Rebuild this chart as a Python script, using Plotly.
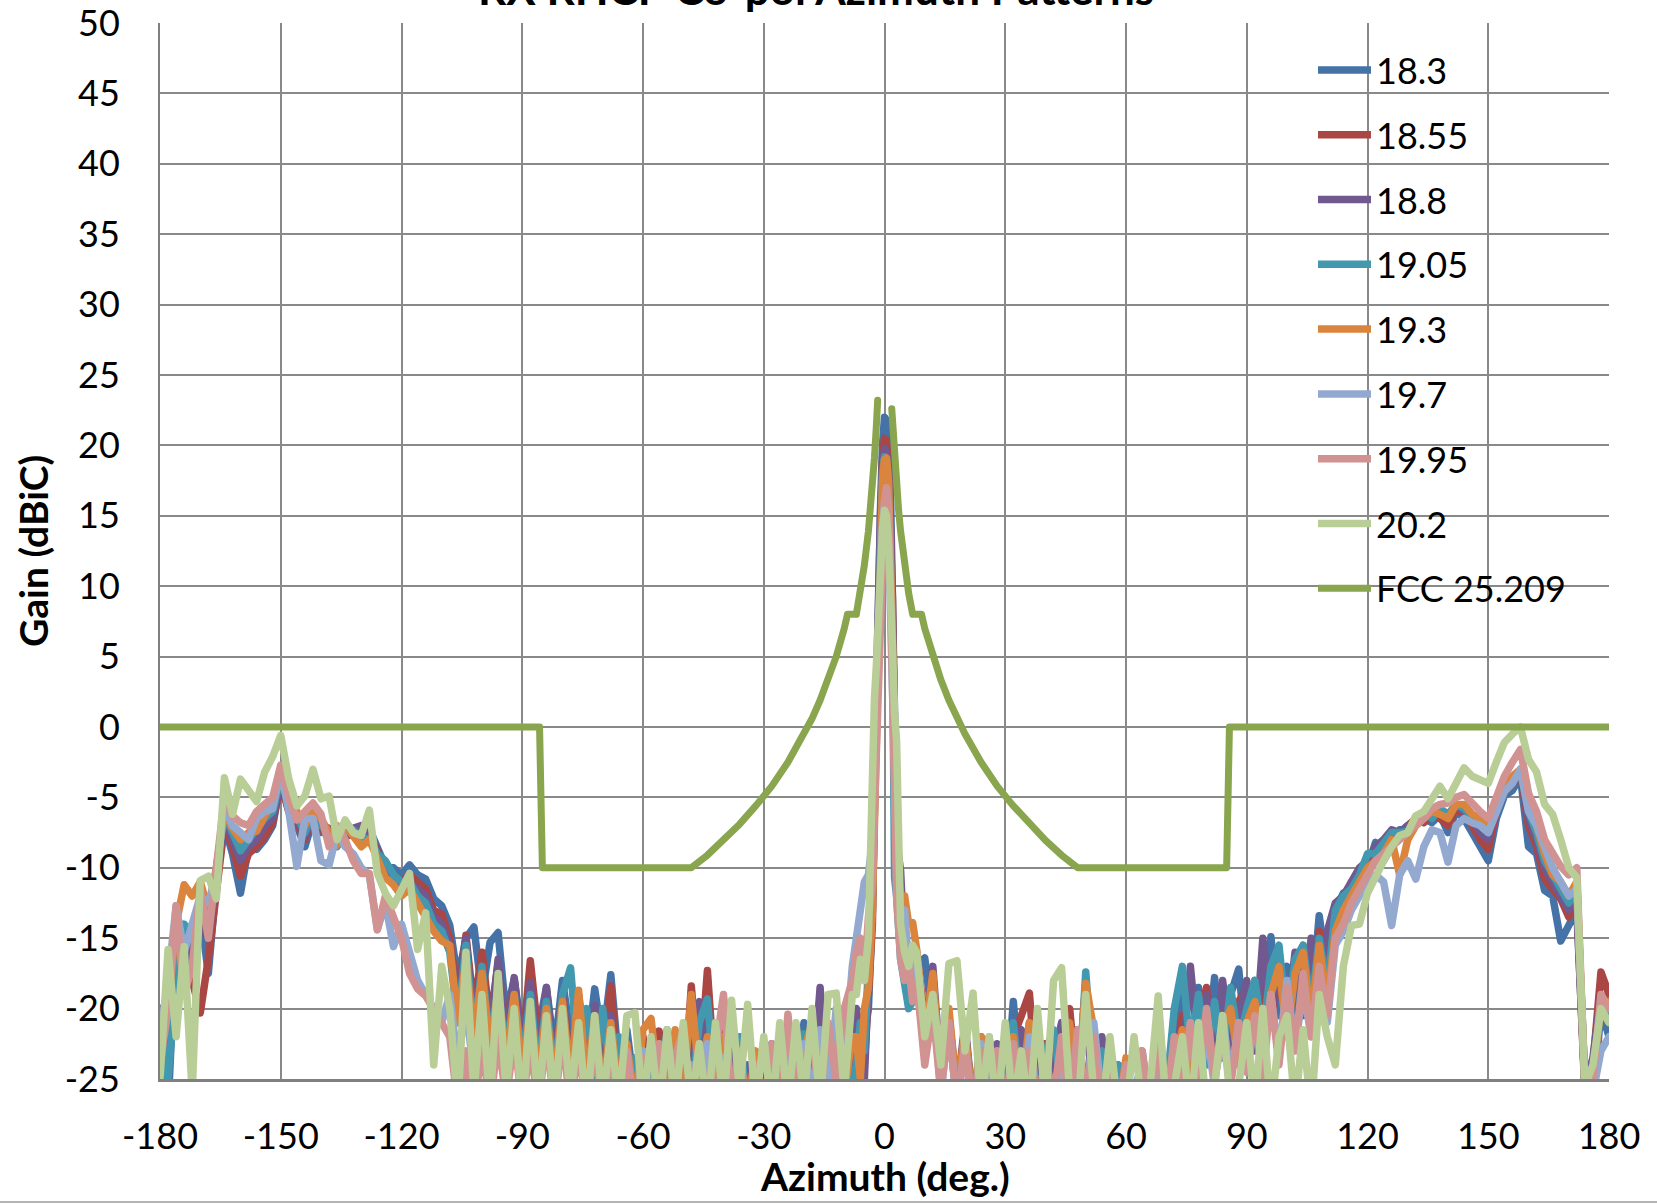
import plotly.graph_objects as go

# ---------------- data ----------------
ANG_LEFT = list(range(-180, -7, 2))          # -180 .. -8 (87 pts)
ANG_CENTER = [-7, -6, -5, -4, -3, -2.5, -2, -1.5, -1, -0.5, 0, 0.5, 1, 1.5, 2, 2.5, 3, 4, 5, 6, 7]
ANG_RIGHT = list(range(8, 181, 2))           # 8 .. 180 (87 pts)
AZIMUTH = ANG_LEFT + ANG_CENTER + ANG_RIGHT

X_TICKS = [-180, -150, -120, -90, -60, -30, 0, 30, 60, 90, 120, 150, 180]
X_TICK_TEXT = ["-180", "-150", "-120", "-90", "-60", "-30", "0", "30", "60", "90", "120", "150", "180"]
Y_TICKS = [-25, -20, -15, -10, -5, 0, 5, 10, 15, 20, 25, 30, 35, 40, 45, 50]
Y_TICK_TEXT = ["-25", "-20", "-15", "-10", "-5", "0", "5", "10", "15", "20", "25", "30", "35", "40", "45", "50"]

SERIES_NAMES = ["18.3", "18.55", "18.8", "19.05", "19.3", "19.7", "19.95", "20.2"]
SERIES_COLORS = ["#4572A7", "#AA4643", "#71588F", "#4198AF", "#DB843D", "#93A9CF", "#D19392", "#B9CD96"]

# gain (dBiC) per block: back lobe -180..-110 | side -108..-8 | main -7..7 | 8..58 | 60..110 | 112..180
G_18_3 = [
    -20, -27, -15, -19, -14, -13, -17.5, -11, -7, -9, -11.8, -8.5, -8.7, -8, -7, -3.8, -6, -7, -8.5, -6.6,
    -7.5, -7.4, -8, -7.5, -7.6, -7.5, -7.2, -8.5, -9.9, -10, -10.5, -9.8, -10.5, -10.8, -12.2, -12.7,
    -14.1, -18, -15, -14.2, -19, -15.3, -14.6, -20.5, -17.9, -22, -18, -21.5, -18.5, -23, -18, -22, -19,
    -23.5, -18.6, -22.5, -17.6, -24, -21.5, -26, -23, -27, -22.5, -26, -23, -27, -22.5, -26.5, -21.5, -26,
    -23, -27, -23.5, -27, -24, -28, -22.5, -27, -23.5, -26, -21, -26, -22, -27, -21.5, -25, -23,
    -21, -24, -22, -20, -13, -5, 4, 11, 15.5, 20, 22, 21.8, 20, 16.5, 11, 1, -9, -15, -17, -16, -18,
    -17, -16.4, -21, -24, -20.5, -26, -21.5, -27, -22, -26.5, -24, -27.5, -19.5, -26, -21, -27, -22.5,
    -26.5, -21.5, -27, -21.5, -26, -22, -27, -23.5, -27,
    -24, -27, -23, -27.5, -22, -26.5, -21, -19, -24, -18.5, -23.5, -17.8, -23, -19, -17.2, -23, -18, -21.5,
    -14.9, -20.5, -17, -21.5, -16.5, -20, -13.4, -17.5,
    -13, -11.8, -11.5, -10.8, -10, -8.2, -9.5, -8.5, -7.3, -7.4, -7, -6.5, -6.8, -6.2, -7.5, -6, -6.5,
    -7.5, -8.5, -9.5, -6.5, -4.9, -4.5, -3.5, -8.5, -9, -11.6, -12, -15.2, -14, -13, -25.5, -27, -20, -22,
]
G_18_55 = [
    -22, -24, -17, -16, -18, -20.3, -16.5, -11.5, -7, -8.5, -10.6, -9, -8.5, -7.8, -6.8, -4, -6, -6.8, -8,
    -6.4, -7.3, -7.3, -8.2, -7.8, -7.6, -7.2, -7.5, -8.8, -10, -10.5, -11, -10.5, -11, -11.5, -13, -13.3,
    -15, -19.5, -14.8, -20, -16, -21, -16.8, -21.5, -18, -23, -16.6, -22, -19.5, -23.5, -19.2, -24, -19.5,
    -23, -20, -24.5, -18.4, -25, -22.5, -26.5, -22, -27, -21.6, -26, -22.3, -27, -18.4, -25, -17.3, -25.5,
    -19.4, -26, -23, -27.5, -23.5, -27, -23.8, -26.5, -23, -27, -22.5, -26, -22, -26.5, -23, -27, -21,
    -23, -21, -24, -19, -14, -4, 3, 10, 15, 19, 20.5, 20.3, 18.5, 15, 9, -1, -10, -14, -16.5, -18, -17,
    -16, -21, -18.5, -24, -21, -26, -22, -27, -23, -27, -23.5, -26.5, -22, -20.5, -18.9, -26, -22.5, -27,
    -22, -20, -26, -18.2, -26, -23, -27, -24,
    -25.5, -27, -25, -27.5, -24.5, -26, -23.5, -20.5, -25, -21, -18.5, -24, -19, -23.5, -19.5, -18.5, -23,
    -17, -21, -17.5, -21, -17.5, -15.5, -20, -14.5, -18,
    -13.5, -12.5, -11, -11.5, -9.5, -9, -8.5, -8, -7.5, -7, -6.5, -6.8, -6.2, -6.5, -7, -5.8, -6.2, -7, -8,
    -8.7, -6, -4.6, -4, -3.2, -7, -8.5, -10.8, -11.5, -12.2, -13.5, -12.5, -26, -24, -17.4, -19,
]
G_18_8 = [
    -20, -23, -16, -15, -17, -14, -15, -11, -6.5, -8, -9.5, -8.5, -8, -7, -6.5, -3.8, -5.8, -6.5, -7.8,
    -6.2, -7, -7.2, -8, -7.6, -7.2, -7, -7.6, -9, -10.2, -10.8, -11.5, -11, -11.5, -12, -13.5, -14,
    -15.5, -20, -15, -21, -17, -22, -16.5, -22.5, -17.8, -23, -18.2, -23.5, -18.5, -24, -19.5, -24.5, -19.5,
    -25, -19.8, -25, -20.5, -25.5, -22.5, -26, -23, -27, -22.5, -27, -23.5, -26.5, -21.5, -19.5, -26, -21,
    -26.5, -23, -27, -24, -27, -24.5, -22.6, -27, -24, -27, -23, -26, -18.5, -26, -22.5, -27, -24,
    -20, -22, -25, -18, -12, -3, 4, 10.5, 15, 18.5, 19.8, 19.5, 18, 14, 9, 0, -8, -10.2, -16, -17.5, -19,
    -17.5, -22, -17, -24.5, -20.5, -26, -21, -27, -23, -26.5, -22.5, -27, -23, -21.5, -26, -22, -27, -23.5,
    -21, -26, -22.5, -20.5, -26.5, -22, -27, -24,
    -24.5, -27.5, -25.5, -27, -23, -26.5, -21.5, -24, -17, -23, -19, -24, -18, -22.5, -20.5, -18, -23, -15,
    -20.5, -17, -21, -16, -20.5, -15, -19.5, -14.5,
    -12.5, -12, -11, -10, -9.5, -8.5, -8, -7.3, -7.5, -7, -6.8, -6.2, -6.5, -6, -6.5, -5.5, -6, -6.5, -7.5,
    -8, -5.5, -4.5, -3.8, -3, -6.5, -8, -10, -11, -12, -13, -12, -25.5, -23.5, -19, -21,
]
G_19_05 = [
    -21, -25, -18, -14, -15, -12.5, -14, -10.5, -6.2, -7.5, -8.8, -8, -7.2, -6.5, -6, -3.6, -5.5, -6.3,
    -7.5, -6, -7, -7.5, -8.5, -7.5, -7.3, -7.8, -8, -9, -9.5, -10.5, -11, -11, -12, -12.5, -14, -14.5,
    -16, -21, -15.5, -22, -17, -22.5, -18.5, -23, -19, -24, -19, -24.5, -19.5, -25, -19, -17.1, -24, -20,
    -25, -20, -25, -22, -26, -23.5, -27, -23.5, -26.5, -21.5, -26, -23.5, -26.5, -21, -19.3, -26, -23.5,
    -27, -22, -27, -24, -27.5, -24, -22.2, -27, -24, -21.8, -26, -23, -27, -24, -22, -26,
    -24, -21, -23, -17, -11.8, -4, 3, 9, 14.5, 18, 19.2, 19, 17, 12.5, 6, -10.7, -12, -16.5, -18, -20, -19.5,
    -18, -23, -18.5, -25, -21.5, -26.5, -22, -27, -23.5, -22, -27, -24, -21, -26.5, -22.5, -27, -23, -21.5,
    -26, -23, -27, -17.4, -25, -23, -27, -24,
    -25, -27.5, -23.5, -27, -22.5, -26, -20, -17, -23, -19, -24, -19.5, -23.5, -18.5, -22.5, -20, -18, -22,
    -17, -15.5, -21, -16.5, -15.5, -20, -15, -18.5,
    -13, -12, -11.5, -10.5, -9, -9, -8.3, -7.5, -7.5, -7.4, -6.5, -6, -6.5, -5.8, -6.2, -5.5, -5.8, -6.5,
    -7, -7.5, -5.5, -4.3, -3.8, -3.2, -6, -7.5, -9.5, -10.5, -11.5, -12.5, -11.5, -25, -26, -19.5, -20.5,
]
G_19_3 = [
    -23, -20, -14, -11.2, -12, -11, -13, -10, -6, -7.2, -8, -7.5, -7.4, -6.3, -5.5, -3.5, -5, -6, -7, -5.8,
    -6.5, -7.5, -8.4, -7, -7.8, -8.5, -8, -9.5, -10.7, -11.2, -12, -11.5, -12.5, -13.5, -14.5, -15.2,
    -15.5, -21, -16.5, -22, -17.5, -23, -18.5, -24, -19, -24.5, -20, -25, -20, -25.5, -19.5, -25, -18.7,
    -25.5, -20.5, -26, -21, -26, -22.5, -27, -21.5, -20.7, -26, -25, -21.5, -26, -19, -25, -22, -26.5,
    -22, -27, -23.5, -27, -23, -27.5, -23, -26.5, -22.5, -27, -23, -21, -26, -24, -21.5, -26, -22,
    -22, -25, -20, -18.5, -13, -5.8, 2, 9, 14, 17.5, 19, 19.1, 17.5, 13, 6, -2, -9.5, -12, -12, -14, -13.9,
    -15.8, -22, -17.5, -25, -20, -26, -21.5, -27, -22, -26.5, -24, -27.5, -22, -26, -21, -27, -23.5, -26.5,
    -22.5, -21, -26, -18.2, -21.5, -26.5, -23, -27.5,
    -23.5, -27.5, -24, -27, -25, -26, -24, -21.5, -25, -22, -20.5, -24.5, -21.5, -20, -24, -21, -19.5, -23,
    -19, -17, -22, -17.5, -16, -21, -15.5, -19.5,
    -14.5, -13, -12, -11, -10, -9.5, -9, -8, -10.5, -8, -7, -6.5, -6, -6.2, -6.5, -5.5, -5.5, -6.2, -6.5,
    -7, -5.2, -4, -3.5, -3, -5.8, -7, -9, -10.5, -11, -12, -11, -25.5, -24.5, -20, -19.5,
]
G_19_7 = [
    -22, -18, -12.7, -16, -14, -12, -12.5, -10.5, -5.5, -7, -7.5, -8, -6.5, -6, -5.8, -3, -6, -9.9, -6.5,
    -6.5, -9.5, -9.8, -7.5, -8.5, -9, -10, -10.5, -14.4, -12.5, -15.6, -14, -15.8, -18, -19, -20, -21,
    -19, -24, -19.5, -25, -20.5, -25.5, -21, -26, -21.5, -26, -22, -26.5, -21, -26, -22, -27, -22.5, -26.5,
    -22.5, -27, -23, -27, -23.5, -27.5, -23, -27, -24, -27.5, -23.5, -27, -24, -28, -22.5, -27, -23.5, -28,
    -24, -27, -24, -27.5, -23.5, -27, -23, -27, -22.5, -26.5, -21.5, -26, -20, -24, -17,
    -14.7, -13, -11, -10.5, -8, -2, 3, 8, 12, 14.5, 15.9, 15.5, 13.5, 9, 3, -3, -10, -15, -13, -17, -16,
    -17.5, -23, -19, -26, -21, -27, -22.5, -27.5, -22.5, -27, -24, -28, -23, -27, -22, -27.5, -24, -27, -23,
    -27.5, -22, -27, -21, -26.5, -24, -27.5,
    -25, -28, -25.5, -27.5, -24.5, -27, -24, -26.5, -21, -26, -21.5, -25.5, -20.5, -25, -21, -24.5, -21,
    -24, -19, -23.5, -18, -23, -18.5, -22, -18, -21,
    -15.5, -14.5, -13, -12, -11.5, -10.5, -11, -14.1, -10.5, -9.5, -10.8, -8.5, -7.3, -7.5, -9.6, -7, -6.5,
    -6.8, -7, -7.5, -6, -4.6, -4, -3, -6, -7, -8.5, -10, -11, -12, -11.5, -25.5, -26, -23, -22,
]
G_19_95 = [
    -24, -20, -12.7, -19, -17, -11.5, -15, -10, -5, -6.3, -6.8, -7, -6, -5.5, -5, -2.7, -5, -6.6, -6, -5.4,
    -6.2, -8.5, -7, -8, -9.5, -10.4, -10.4, -14.4, -12, -13.4, -15, -17.5, -18.6, -19.1, -20, -21,
    -22, -27, -23, -27.5, -22.5, -27, -22, -26.5, -22, -27, -22.5, -27, -22, -27, -22, -26.5, -23, -27,
    -22.5, -27.5, -22.5, -27, -23, -27.5, -23.5, -27, -22.5, -27.5, -23.5, -21.5, -26.5, -22.5, -27, -23,
    -19, -26.5, -23, -27.5, -24, -27.5, -22.5, -27, -20.4, -26, -24, -22, -26.5, -21, -25, -20, -18,
    -16, -15, -18, -13.5, -11, -6, -1, 4, 9, 13, 16, 17, 15.5, 10, 3, -4, -12, -16.5, -18, -17, -19.5,
    -18, -24, -20, -26, -21, -27, -22.5, -27.5, -23, -27.5, -23, -27, -22.5, -27, -23, -27.5, -23.5, -26.5,
    -22, -27, -21.5, -26.5, -22, -27.5, -23, -27,
    -24, -27.5, -23, -27, -22.5, -27, -22, -26.5, -21, -26, -20, -25, -22, -25.5, -21, -24.5, -20.5, -25,
    -19, -24, -18.5, -23, -17.5, -22, -17, -20.5,
    -15, -14, -12.5, -11.5, -10.5, -9.5, -9, -8.5, -8, -7.5, -7, -6.5, -5.8, -5.5, -5.4, -5, -4.8, -5.5,
    -6, -6.5, -5, -3.5, -2.5, -1.6, -4.7, -6, -8, -9, -9.9, -10.5, -10, -25.5, -25, -19, -20,
]
G_20_2 = [
    -25, -15.8, -22, -15.6, -26, -10.9, -10.6, -12.2, -3.6, -6.2, -3.7, -4.6, -5.3, -3.2, -2.1, -0.6, -3.7,
    -5.6, -4.9, -3.0, -5.1, -4.9, -8, -6.6, -7.5, -7.7, -5.9, -10.4, -11.8, -12.7, -11.5, -10.4, -15.8,
    -13.2, -24, -17,
    -20, -27, -16, -26, -19, -27, -17.5, -26, -20, -27.5, -19.5, -27, -20.5, -27, -20, -26.5, -21, -27.5,
    -20.5, -27, -21.5, -27, -20.5, -20.3, -27, -22, -27.5, -21.5, -27, -21, -27, -22.5, -27.5, -21, -27,
    -19.4, -26, -19.7, -27, -22, -27.5, -21, -27, -21, -26.5, -20, -27, -19, -18.9, -26, -19,
    -19, -16.5, -18, -15, -1, 2, 4.5, 8.5, 11.5, 14, 15.4, 15, 13, 10, 5.5, 1, -1, -14, -16, -17, -15.5,
    -16, -22, -19, -24, -16.8, -16.6, -23, -18.9, -27, -22, -27.5, -21, -27, -23, -27.5, -20, -27, -18,
    -17.1, -26, -27.5, -19, -26, -27.5, -22, -27,
    -27.5, -22, -27, -25.5, -19.1, -27, -25.5, -22, -27.5, -21, -27, -25.5, -20.5, -27, -25.5, -21, -27,
    -20, -27.5, -22, -20.5, -27, -21.5, -27.5, -19, -22,
    -24, -17, -14.1, -14, -11.8, -10.5, -9.5, -8.5, -7.7, -7.5, -6.3, -6, -5, -4.2, -5.1, -4, -2.9, -3.5,
    -3.7, -4, -2.5, -1.1, -0.5, 0, -2.3, -3.2, -5.5, -6.2, -8, -10, -10.7, -25.5, -24, -20, -21,
]
SERIES_VALUES = [G_18_3, G_18_55, G_18_8, G_19_05, G_19_3, G_19_7, G_19_95, G_20_2]

FCC_AZIMUTH = [-180, -85.7, -85, -48, -44, -40, -36, -32, -28, -24, -20, -18, -16, -14, -12, -10, -9.2,
               -7, -6, -5, -4, -3.5, -3, -2.5, -2, -1.7, None, 1.8, 2, 2.5, 3, 3.5, 4, 5, 6, 7, 9.2, 10,
               12, 14, 16, 18, 20, 24, 28, 32, 36, 40, 44, 48, 85, 85.7, 180]
FCC_GAIN = [0, 0, -10, -10, -9.1, -8.05, -6.9, -5.6, -4.2, -2.5, -0.5, 0.6, 1.9, 3.35, 5.0, 7.0, 8.0,
            8.0, 9.5, 11.5, 13.9, 15.4, 17.1, 19.1, 21.5, 23.2, None, 22.6, 21.5, 19.1, 17.1, 15.4, 13.9,
            11.5, 9.5, 8.0, 8.0, 7.0, 5.0, 3.35, 1.9, 0.6, -0.5, -2.5, -4.2, -5.6, -6.9, -8.05, -9.1, -10,
            -10, 0, 0]

for nm, vals in zip(SERIES_NAMES, SERIES_VALUES):
    if len(vals) != len(AZIMUTH):
        raise ValueError(f"series {nm}: {len(vals)} values vs {len(AZIMUTH)} angles")
if len(FCC_AZIMUTH) != len(FCC_GAIN):
    raise ValueError("fcc length mismatch")

# ---------------- figure ----------------
FONT = "Lato"
GRID = "#898989"
PLOT_L, PLOT_R, PLOT_T, PLOT_B = 160, 1609, 23, 1079
PW, PH = PLOT_R - PLOT_L, PLOT_B - PLOT_T


def px_x(px):
    return (px - PLOT_L) / PW


def px_y(py):
    return (PLOT_B - py) / PH


fig = go.Figure()
for nm, col, vals in zip(SERIES_NAMES, SERIES_COLORS, SERIES_VALUES):
    fig.add_trace(go.Scatter(x=AZIMUTH, y=vals, mode="lines", name=nm, legendgroup=nm,
                             line=dict(color=col, width=7.5)))
fig.add_trace(go.Scatter(x=FCC_AZIMUTH, y=FCC_GAIN, mode="lines", name="FCC 25.209", legendgroup="fcc",
                         connectgaps=False, line=dict(color="#89A54E", width=7)))

fig.update_layout(
    width=1657, height=1204,
    margin=dict(l=PLOT_L, r=1657 - PLOT_R, t=PLOT_T, b=1204 - PLOT_B, autoexpand=False),
    paper_bgcolor="white", plot_bgcolor="white",
    font=dict(family=FONT, color="black", size=36),
    title=dict(text="<b>RX RHCP Co-pol Azimuth Patterns</b>", x=816 / 1657, xref="container",
               xanchor="center", y=1 - 5 / 1204, yref="container", yanchor="bottom",
               font=dict(family=FONT, size=44, color="black")),
    showlegend=True,
    legend=dict(x=px_x(1313), y=px_y(40), xanchor="left", yanchor="top",
                bgcolor="rgba(255,255,255,0)", borderwidth=0,
                font=dict(family=FONT, size=36, color="black"),
                tracegroupgap=15, itemwidth=53),
    xaxis=dict(range=[-180, 180], tickmode="array", tickvals=X_TICKS, ticktext=X_TICK_TEXT,
               showgrid=True, gridcolor=GRID, gridwidth=1.8, zeroline=False,
               showline=True, linecolor="#7f7f7f", linewidth=3, ticks="",
               ticklabelstandoff=24, ticklabeloverflow="allow", tickfont=dict(family=FONT, size=36)),
    yaxis=dict(range=[-25, 50], tickmode="array", tickvals=Y_TICKS, ticktext=Y_TICK_TEXT,
               showgrid=True, gridcolor=GRID, gridwidth=1.8, zeroline=False,
               showline=True, linecolor="#7f7f7f", linewidth=2, ticks="",
               ticklabelstandoff=31, ticklabeloverflow="allow", tickfont=dict(family=FONT, size=36)),
    annotations=[
        dict(text="<b>Azimuth (deg.)</b>", xref="paper", yref="paper", x=px_x(885), y=px_y(1176),
             xanchor="center", yanchor="middle", showarrow=False, font=dict(family=FONT, size=39)),
        dict(text="<b>Gain (dBiC)</b>", xref="paper", yref="paper", x=px_x(33), y=px_y(551),
             xanchor="center", yanchor="middle", showarrow=False, textangle=-90,
             font=dict(family=FONT, size=39)),
    ],
    shapes=[
        # legend box (white, covers the grid)
        dict(type="rect", xref="paper", yref="paper", layer="between",
             x0=px_x(1299), x1=1.0, y0=px_y(624), y1=px_y(37),
             fillcolor="white", line=dict(width=0)),
        # chart-area bottom border
        dict(type="line", xref="paper", yref="paper", x0=-0.2, x1=1.2,
             y0=px_y(1202), y1=px_y(1202), line=dict(color="#B3B3B3", width=2)),
    ],
)

POST = (
    "document.body.style.margin='0';document.body.style.overflow='hidden';"
    "var st=document.createElement('style');"
    "st.textContent='.scatterlayer path.js-line{stroke-linejoin:round;stroke-linecap:round;}';"
    "document.head.appendChild(st);"
)
fig.write_html("out.html", config={"displayModeBar": False}, post_script=POST)
